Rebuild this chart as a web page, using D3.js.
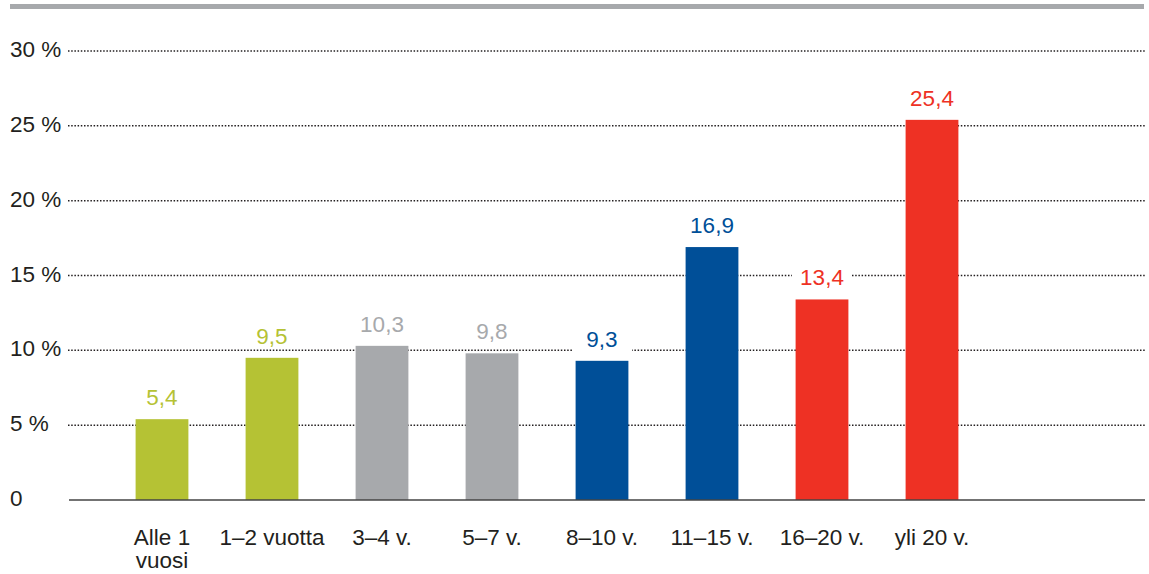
<!DOCTYPE html>
<html>
<head>
<meta charset="utf-8">
<script src="https://cdn.jsdelivr.net/npm/d3@7"></script>
<style>
  body { margin: 0; background: #fff; }
  svg text { font-family: "Liberation Sans", Arial, Helvetica, sans-serif; }
</style>
</head>
<body>
<svg id="chart" width="1149" height="574"></svg>
<script>
// data
var categories = ["Alle 1|vuosi", "1–2 vuotta", "3–4 v.", "5–7 v.", "8–10 v.", "11–15 v.", "16–20 v.", "yli 20 v."];
var values = [5.4, 9.5, 10.3, 9.8, 9.3, 16.9, 13.4, 25.4];
var valueLabels = ["5,4", "9,5", "10,3", "9,8", "9,3", "16,9", "13,4", "25,4"];
var groups = ["green", "green", "grey", "grey", "blue", "blue", "red", "red"];
var yTicks = [0, 5, 10, 15, 20, 25, 30];
var yTickLabels = ["0", "5 %", "10 %", "15 %", "20 %", "25 %", "30 %"];

var colors = { green: "#b5c234", grey: "#a7a9ac", blue: "#004f98", red: "#ee3124" };
var textColor = "#231f20";

var svg = d3.select("#chart");

// grey band on top
svg.append("rect")
    .attr("x", 10).attr("y", 4)
    .attr("width", 1134).attr("height", 5)
    .attr("fill", "#a7a9ac");

var y = d3.scaleLinear().domain([0, 30]).range([500, 51]);
var x = d3.scaleBand()
    .domain(categories)
    .range([107, 987])
    .paddingInner(0.52)
    .paddingOuter(0.26);

// dotted gridlines
svg.append("g").selectAll("line")
    .data(yTicks.filter(function(d) { return d > 0; }))
    .enter().append("line")
    .attr("x1", 68).attr("x2", 1145)
    .attr("y1", function(d) { return y(d); })
    .attr("y2", function(d) { return y(d); })
    .attr("stroke", "#231f20")
    .attr("stroke-width", 1.5)
    .attr("stroke-dasharray", "1.5,1.7");

// y tick labels
svg.append("g").selectAll("text")
    .data(yTicks)
    .enter().append("text")
    .attr("x", 10)
    .attr("y", function(d) { return y(d) + 6; })
    .attr("font-size", 22.5)
    .attr("fill", textColor)
    .text(function(d, i) { return yTickLabels[i]; });

// bars
svg.append("g").selectAll("rect")
    .data(values)
    .enter().append("rect")
    .attr("x", function(d, i) { return x(categories[i]); })
    .attr("y", function(d) { return y(d); })
    .attr("width", x.bandwidth())
    .attr("height", function(d) { return y(0) - y(d); })
    .attr("fill", function(d, i) { return colors[groups[i]]; });

// baseline
svg.append("line")
    .attr("x1", 69).attr("x2", 1145)
    .attr("y1", y(0)).attr("y2", y(0))
    .attr("stroke", "#444")
    .attr("stroke-width", 1.5);

// value labels, with white backing to break the gridlines
var lab = svg.append("g").selectAll("g")
    .data(values)
    .enter().append("g")
    .attr("transform", function(d, i) {
        return "translate(" + (x(categories[i]) + x.bandwidth() / 2) + "," + (y(d) - 14) + ")";
    });
lab.append("rect")
    .attr("x", -30).attr("y", -19)
    .attr("width", 60).attr("height", 24)
    .attr("fill", "#fff");
lab.append("text")
    .attr("text-anchor", "middle")
    .attr("font-size", 22.5)
    .attr("fill", function(d, i) { return colors[groups[i]]; })
    .text(function(d, i) { return valueLabels[i]; });

// category labels
var cat = svg.append("g").selectAll("text")
    .data(categories)
    .enter().append("text")
    .attr("text-anchor", "middle")
    .attr("font-size", 22.5)
    .attr("fill", textColor)
    .attr("transform", function(d) { return "translate(" + (x(d) + x.bandwidth() / 2) + ",545)"; });
cat.each(function(d) {
    var parts = d.split("|");
    var t = d3.select(this);
    parts.forEach(function(p, j) {
        t.append("tspan").attr("x", 0).attr("dy", j === 0 ? 0 : 23).text(p);
    });
});
</script>
</body>
</html>
